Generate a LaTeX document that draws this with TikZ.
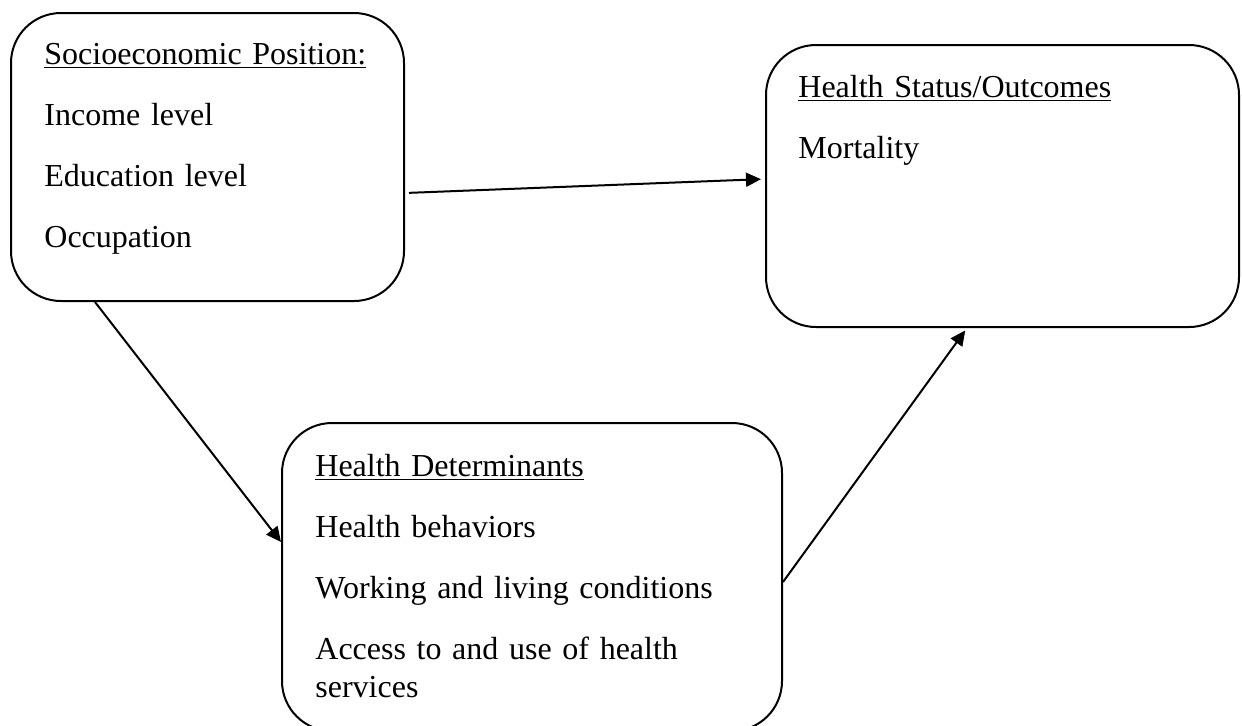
\documentclass[tikz,border=0pt]{standalone}
\usepackage{fontspec}
\setmainfont{Liberation Serif}
\usetikzlibrary{arrows.meta}

% underlined heading, rule at a fixed depth below the baseline
\newcommand{\headline}[1]{\setbox0\hbox{#1}\rlap{\rule[-2pt]{\wd0}{0.65pt}}\box0}

\tikzset{
  frame/.style={draw,line width=1pt,rounded corners=25pt,inner sep=0pt},
  boxtext/.style={anchor=base west,inner sep=0pt,align=left,text width=230pt,
    font=\fontsize{16pt}{19pt}\selectfont},
  link/.style={line width=1pt,-{Triangle[length=7.5pt,width=7pt]}}
}

\begin{document}
\begin{tikzpicture}[x=0.5pt,y=-0.5pt]
    \useasboundingbox (0,0) rectangle (1242,725);

    % the three boxes
    \node[frame,minimum width=196.5pt,minimum height=144pt] (sep) at (207.5,157) {};
    \node[frame,minimum width=236.5pt,minimum height=141pt] (status) at (1002.5,186) {};
    \node[frame,minimum width=250pt,minimum height=154pt] (det) at (532,577) {};

    % their texts
    \node[boxtext] (sepText) at ([shift={(17pt,-26pt)}]sep.north west)
      {\headline{Socioeconomic Position:}\\[11.5pt]
       Income level\\[11.5pt]
       Education level\\[11.5pt]
       Occupation};
    \node[boxtext] (statusText) at ([shift={(16.5pt,-26.5pt)}]status.north west)
      {\headline{Health Status/Outcomes}\\[11.5pt]
       Mortality};
    \node[boxtext] (detText) at ([shift={(17pt,-27pt)}]det.north west)
      {\headline{Health Determinants}\\[11.5pt]
       Health behaviors\\[11.5pt]
       Working and living conditions\\[11.5pt]
       Access to and use of health\\
       services};

    % arrows
    \draw[link,shorten <=2pt,shorten >=2pt] ([yshift=-18pt]sep.east) -- ([yshift=3.5pt]status.west);
    \draw[link] ([xshift=-56.25pt]sep.south) -- ([yshift=17.5pt]det.west);
    \draw[link,shorten >=1.5pt] ([yshift=-2.5pt]det.east) -- ([xshift=-17.75pt]status.south);
\end{tikzpicture}
\end{document}
